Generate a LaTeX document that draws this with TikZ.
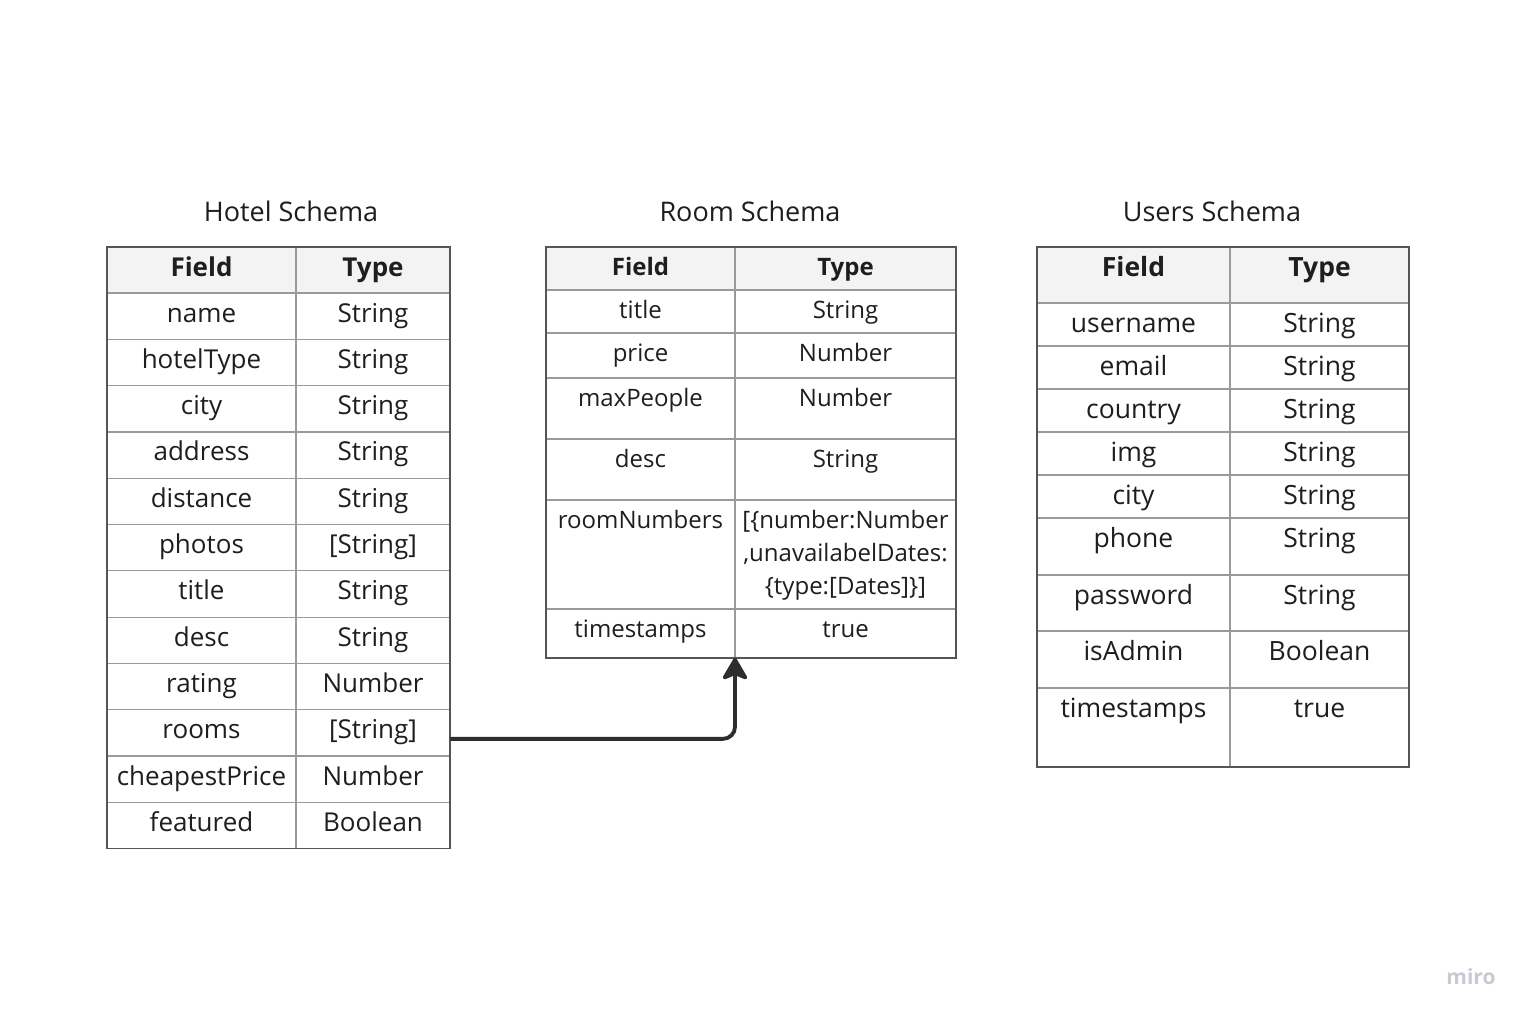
\documentclass[tikz,border=0pt]{standalone}
\usepackage{fontspec}
\setmainfont{Open Sans}
\usetikzlibrary{arrows.meta,positioning}

\definecolor{inkgray}{HTML}{1E1E1E}
\definecolor{gridgray}{HTML}{9A9A9A}
\definecolor{edgegray}{HTML}{555555}
\definecolor{headfill}{HTML}{F3F3F3}
\definecolor{arrowgray}{HTML}{2E2E2E}
\definecolor{mirogray}{HTML}{C8C9D3}

\begin{document}
\begin{tikzpicture}[
    x=1pt, y=-1pt,
    font=\fontsize{26}{31}\selectfont,
    text=inkgray,
    cell/.style={
		rectangle,
		draw=gridgray,
		line width=1.2pt,
		anchor=north west,
		inner sep=0pt,
		outer sep=0pt,
		text height=29pt
	},
	headcell/.style={
		cell,
		fill=headfill
	},
	usercell/.style={
		cell,
		font=\fontsize{26.5}{31}\selectfont
	},
	userhead/.style={
		usercell,
		fill=headfill
	},
	roomcell/.style={
		cell,
		text height=28pt,
		font=\fontsize{24}{29}\selectfont
	},
	roomhead/.style={
		roomcell,
		fill=headfill
	},
	title/.style={
		font=\fontsize{27}{32}\selectfont
	},
	outline/.style={
		draw=edgegray,
		line width=1.5pt
	},
	link/.style={
		draw=arrowgray,
		line width=3.8pt,
		rounded corners=12pt,
		-{Stealth[length=25pt, width=29pt, inset=6pt, round]}
	},
	watermark/.style={
		text=mirogray,
		font=\fontsize{21}{25}\selectfont\bfseries
	}
  ]
  \fill [white] (0,0) rectangle (1530,1020);
  \useasboundingbox (0,0) rectangle (1530,1020);

  % Hotel Schema
  \node [title] (hotel-title) at (291,211) {Hotel Schema};
  \node [headcell, minimum width=189pt, text depth=17pt] (hotel-f0) at (107,247) {\textbf{Field}};
  \node [headcell, minimum width=154pt, text depth=17pt, right=0pt of hotel-f0] (hotel-t0) {\textbf{Type}};
  \foreach \f/\t [count=\i] in {name/String, hotelType/String, city/String, address/String,
      distance/String, photos/[String], title/String, desc/String, rating/Number,
      rooms/[String], cheapestPrice/Number, featured/Boolean} {
    \pgfmathtruncatemacro\p{\i-1}
    \node [cell, minimum width=189pt, text depth=17.3pt, below=0pt of hotel-f\p] (hotel-f\i) {\f};
    \node [cell, minimum width=154pt, text depth=17.3pt, right=0pt of hotel-f\i] (hotel-t\i) {\t};
  }
  \draw [outline] (hotel-f0.north west) rectangle (hotel-t12.south east);

  % Room Schema
  \node [title] (room-title) at (750,211) {Room Schema};
  \node [roomhead, minimum width=189pt, text depth=15pt] (room-f0) at (546,247) {\textbf{Field}};
  \node [roomhead, minimum width=221pt, text depth=15pt, right=0pt of room-f0] (room-t0) {\textbf{Type}};
  \foreach \f/\t/\d [count=\i] in {title/String/15, price/Number/17, maxPeople/Number/33, desc/String/33} {
    \pgfmathtruncatemacro\p{\i-1}
    \node [roomcell, minimum width=189pt, text depth=\d pt, below=0pt of room-f\p] (room-f\i) {\f};
    \node [roomcell, minimum width=221pt, text depth=\d pt, right=0pt of room-f\i] (room-t\i) {\t};
  }
  \node [roomcell, minimum width=189pt, text depth=81pt, below=0pt of room-f4] (room-f5) {roomNumbers};
  \node [roomcell, minimum width=221pt, text depth=81pt, right=0pt of room-f5, font=\fontsize{24}{33}\selectfont] (room-t5)
  {%
  \begin{tabular}[t]{@{}c@{}}
   [\{number:Number\\
   ,unavailabelDates:\\
   \{type:[Dates]\}]
  \end{tabular}
  };
  \node [roomcell, minimum width=189pt, text depth=21pt, below=0pt of room-f5] (room-f6) {timestamps};
  \node [roomcell, minimum width=221pt, text depth=21pt, right=0pt of room-f6] (room-t6) {true};
  \draw [outline] (room-f0.north west) rectangle (room-t6.south east);

  % Users Schema
  \node [title] (users-title) at (1212,211) {Users Schema};
  \node [userhead, minimum width=193pt, text depth=27pt] (users-f0) at (1037,247) {\textbf{Field}};
  \node [userhead, minimum width=179pt, text depth=27pt, right=0pt of users-f0] (users-t0) {\textbf{Type}};
  \foreach \f/\t/\d [count=\i] in {username/String/14, email/String/14, country/String/14,
      img/String/14, city/String/14, phone/String/28, password/String/27,
      isAdmin/Boolean/28, timestamps/true/50} {
    \pgfmathtruncatemacro\p{\i-1}
    \node [usercell, minimum width=193pt, text depth=\d pt, below=0pt of users-f\p] (users-f\i) {\f};
    \node [usercell, minimum width=179pt, text depth=\d pt, right=0pt of users-f\i] (users-t\i) {\t};
  }
  \draw [outline] (users-f0.north west) rectangle (users-t9.south east);

  % rooms -> Room Schema
  \draw [link] ([yshift=-6pt]hotel-t10.east) -| (room-f6.south east);

  \node [watermark] (miro) at (1471,977) {miro};

\end{tikzpicture}
\end{document}
